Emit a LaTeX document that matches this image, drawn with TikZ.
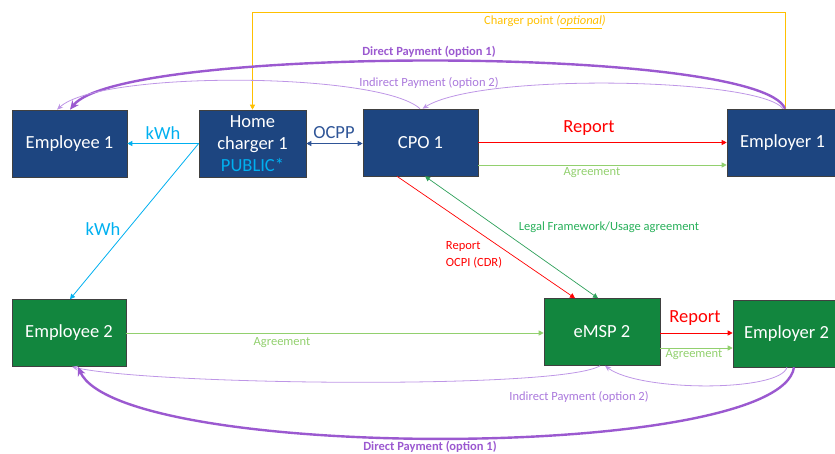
\documentclass[tikz,border=0pt]{standalone}
\usepackage{fontspec}
\setmainfont{Carlito}
\usetikzlibrary{arrows.meta,calc}
\definecolor{boxblue}{RGB}{29,69,128}
\definecolor{boxgreen}{RGB}{18,134,62}
\definecolor{kwh}{RGB}{0,176,240}
\definecolor{pub}{RGB}{0,176,240}
\definecolor{ocpp}{RGB}{47,85,151}
\definecolor{rep}{RGB}{255,0,0}
\definecolor{agr}{RGB}{146,208,110}
\definecolor{legal}{RGB}{46,160,90}
\definecolor{legaltext}{RGB}{40,176,90}
\definecolor{pdir}{RGB}{155,89,208}
\definecolor{pind}{RGB}{190,150,230}
\definecolor{pindtext}{RGB}{170,120,220}
\definecolor{yel}{RGB}{255,192,0}
\tikzset{
  bbox/.style={draw=black!75, line width=0.6pt, minimum height=67pt, text=white,
    font=\fontsize{18.5}{22}\selectfont, align=center, inner sep=0pt},
  bluebox/.style={bbox, fill=boxblue},
  greenbox/.style={bbox, fill=boxgreen},
  tip/.style={-{Triangle[length=5pt,width=5pt]}},
  bitip/.style={{Triangle[length=5pt,width=5pt]}-{Triangle[length=5pt,width=5pt]}},
  big/.style={font=\fontsize{18.5}{22}\selectfont},
  small/.style={font=\fontsize{12.5}{15}\selectfont},
  tiny/.style={font=\fontsize{12.5}{17}\selectfont},
  boldlab/.style={font=\bfseries\fontsize{12.5}{15}\selectfont},
  dirline/.style={draw=pdir, line width=2.4pt, -{Stealth[length=9pt,width=8pt]}},
  indline/.style={draw=pind, line width=0.8pt, -{Stealth[length=6pt,width=5pt]}},
}
\begin{document}
\begin{tikzpicture}[x=1pt,y=-1pt]
\useasboundingbox (0,0) rectangle (835,454);
\clip (0,0) rectangle (835,454);
% boxes
\node[bluebox, minimum width=115pt] (emp1) at (69.5,143.5) {Employee 1};
\node[bluebox, minimum width=107pt] (hc) at (252.5,143.5) {Home\\charger 1\\\textcolor{pub}{PUBLIC*}};
\node[bluebox, minimum width=115pt] (cpo) at (420.5,142.5) {CPO 1};
\node[bluebox, minimum width=111pt] (er1) at (782.5,142.5) {Employer 1};
\node[greenbox, minimum width=114pt] (emp2) at (69,333) {Employee 2};
\node[greenbox, minimum width=116pt] (emsp) at (602,332) {eMSP 2};
\node[greenbox, minimum width=107pt] (er2) at (786.5,333.5) {Employer 2};
% yellow charger point
\draw[yel, line width=0.8pt, tip] ([xshift=2.5pt]er1.north) -- ++(0,-96) -| (hc.north);
\node[text=yel, tiny] (lcp) at (545,22) {Charger point \textit{(\underline{optional})}};
% direct payment top
\draw[dirline] ([xshift=2.5pt]er1.north) .. controls (760,45) and (120,45) .. ([xshift=0.5pt]emp1.north);
\node[text=pdir, boldlab] (ldir1) at (429,52) {Direct Payment (option 1)};
% indirect payment top
\draw[indline] ([xshift=0.5pt]er1.north) .. controls (760,78) and (480,72) .. ([xshift=2pt]cpo.north);
\draw[indline] ([xshift=-0.5pt]cpo.north) .. controls (380,72) and (100,70) .. ([xshift=-12.5pt]emp1.north);
\node[text=pindtext, tiny] (lind1) at (429,83) {Indirect Payment (option 2)};
% kWh
\draw[kwh, line width=0.8pt, tip] (hc.west) -- (emp1.east);
\draw[kwh, line width=0.8pt, tip] (hc.west) -- ([xshift=1pt]emp2.north);
\node[text=kwh, big] (lk1) at (163,133) {kWh};
\node[text=kwh, big] (lk2) at (103,229) {kWh};
% OCPP
\draw[ocpp, line width=0.8pt, bitip] (hc.east) -- (hc.east -| cpo.west);
\node[text=ocpp, big] (locpp) at (334,133) {OCPP};
% CPO -> Employer 1
\draw[rep, line width=0.8pt, tip] (cpo.east) -- (er1.west);
\node[text=rep, big] (lrep1) at (589,128) {Report};
\draw[agr, line width=0.8pt, tip] ([yshift=-22.5pt]cpo.east) -- ([yshift=-22.5pt]er1.west);
\node[text=agr, small] (lagr1) at (592,173) {Agreement};
% CPO -> eMSP
\draw[rep, line width=0.7pt, tip] ([xshift=-23.5pt]cpo.south) -- ([xshift=-27pt]emsp.north);
\node[text=rep, tiny, align=left] (locpi) at (474,255) {Report\\OCPI (CDR)};
\draw[legal, line width=0.7pt, bitip] ([xshift=4.5pt]cpo.south) -- ([xshift=-4pt]emsp.north);
\node[text=legaltext, small] (llegal) at (609,227) {Legal Framework/Usage agreement};
% Employee 2 -> eMSP
\draw[agr, line width=0.8pt, tip] (emp2.east) -- (emp2.east -| emsp.west);
\node[text=agr, small] (lagr2) at (282,343) {Agreement};
% eMSP -> Employer 2
\draw[rep, line width=0.8pt, tip] ([yshift=-1pt]emsp.east) -- ([yshift=-1pt]emsp.east -| er2.west);
\node[text=rep, big] (lrep2) at (695,318) {Report};
\draw[agr, line width=0.8pt, tip] ([yshift=-16pt]emsp.east) -- ([yshift=-16pt]emsp.east -| er2.west);
\node[text=agr, small] (lagr3) at (694,355) {Agreement};
% indirect payment bottom
\draw[indline] ([xshift=0.5pt]er2.south) .. controls (780,392) and (640,392) .. ([xshift=3pt]emsp.south);
\draw[indline] ([xshift=-2pt]emsp.south) .. controls (560,390) and (150,385) .. ([xshift=3pt]emp2.south);
\node[text=pindtext, tiny] (lind2) at (579,397) {Indirect Payment (option 2)};
% direct payment bottom
\draw[dirline] ([xshift=7.5pt]er2.south) .. controls (780,462) and (120,462) .. ([xshift=9pt]emp2.south);
\node[text=pdir, boldlab] (ldir2) at (430,447) {Direct Payment (option 1)};
\end{tikzpicture}
\end{document}
